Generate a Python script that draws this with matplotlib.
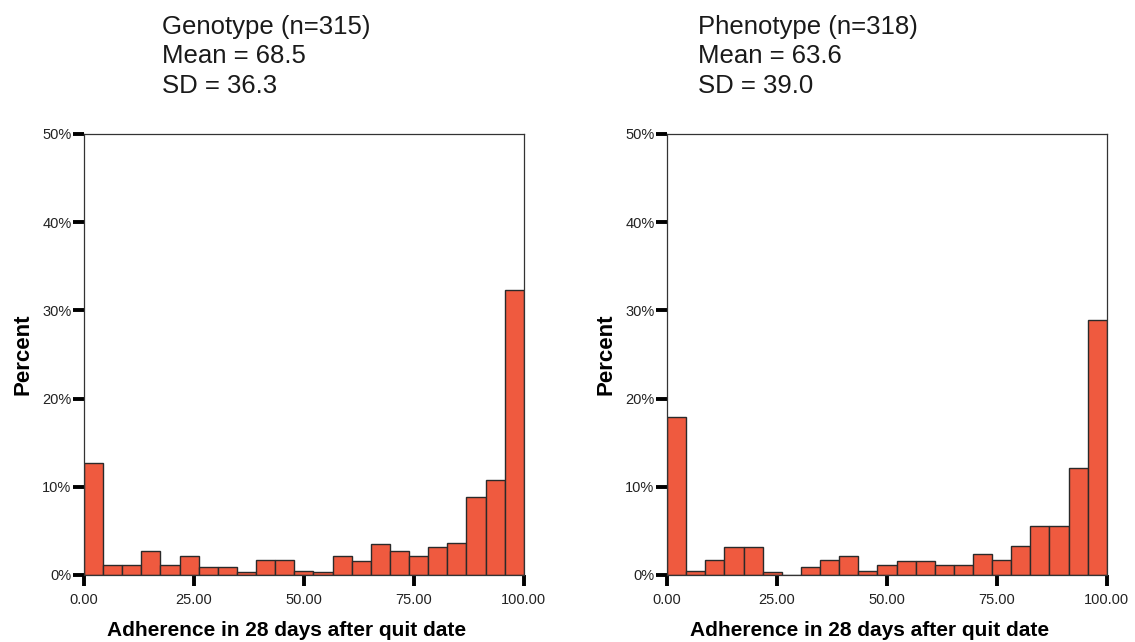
import matplotlib.pyplot as plt
import numpy as np
from matplotlib.ticker import FuncFormatter

plt.rcParams['font.family'] = ['Liberation Sans', 'DejaVu Sans']

# 23 equal bins over 0..100
bin_edges = np.linspace(0, 100, 24)

genotype_pct = [12.7, 1.15, 1.15, 2.75, 1.15, 2.1, 0.85, 0.85, 0.3, 1.7, 1.7, 0.5,
                0.3, 2.1, 1.6, 3.5, 2.75, 2.1, 3.15, 3.6, 8.85, 10.8, 32.3]
phenotype_pct = [17.9, 0.5, 1.7, 3.15, 3.15, 0.3, 0.0, 0.85, 1.7, 2.1, 0.5, 1.15,
                 1.6, 1.6, 1.15, 1.15, 2.4, 1.7, 3.3, 5.55, 5.55, 12.15, 28.9]

titles = ["Genotype (n=315)\nMean = 68.5\nSD = 36.3",
          "Phenotype (n=318)\nMean = 63.6\nSD = 39.0"]
x_ticks = [0, 25, 50, 75, 100]
y_ticks = [0, 10, 20, 30, 40, 50]
xlabel = "Adherence in 28 days after quit date"
ylabel = "Percent"

bar_color = '#ef5a3f'

fig = plt.figure(figsize=(11.35, 6.42), dpi=100)
ax_left = [0.074, 0.5877]
title_x = [0.1427, 0.615]

for k, vals in enumerate([genotype_pct, phenotype_pct]):
    ax = fig.add_axes([ax_left[k], 0.1044, 0.3875, 0.687])
    ax.bar(bin_edges[:-1], vals, width=np.diff(bin_edges), align='edge',
           color=bar_color, edgecolor='#2a2a2a', linewidth=1.0)
    ax.set_xlim(0, 100)
    ax.set_ylim(0, 50)
    ax.set_xticks(x_ticks)
    ax.set_xticklabels(["%.2f" % t for t in x_ticks])
    ax.set_yticks(y_ticks)
    ax.yaxis.set_major_formatter(FuncFormatter(lambda v, p: "%d%%" % v))
    ax.tick_params(axis='both', direction='out', length=8, width=2.8,
                   labelsize=10.5, color='black', labelcolor='#222222')
    ax.tick_params(axis='x', pad=5)
    ax.tick_params(axis='y', pad=1)
    for s in ax.spines.values():
        s.set_linewidth(0.9)
        s.set_color('#333333')
    ax.set_xlabel(xlabel, fontsize=15, fontweight='bold', labelpad=10)
    ax.xaxis.label.set_x(0.46)
    ax.set_ylabel(ylabel, fontsize=16, fontweight='bold', labelpad=6)
    fig.text(title_x[k], 0.977, titles[k], fontsize=18.5, va='top', ha='left',
             color='#1a1a1a', linespacing=1.3)

plt.savefig("out.png", dpi=100)
